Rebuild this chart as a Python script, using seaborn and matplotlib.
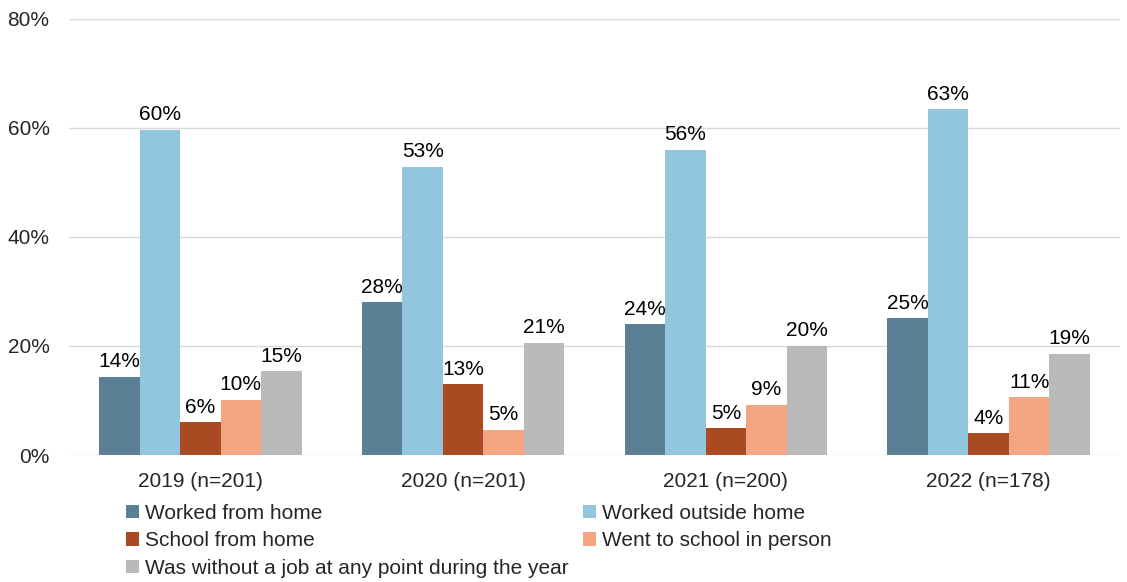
import matplotlib
matplotlib.use("Agg")
import matplotlib.pyplot as plt
import seaborn as sns
import pandas as pd
from matplotlib.patches import Patch

years = ["2019 (n=201)", "2020 (n=201)", "2021 (n=200)", "2022 (n=178)"]
series = ["Worked from home", "Worked outside home", "School from home",
          "Went to school in person", "Was without a job at any point during the year"]
worked_from_home = [14.4, 28.0, 24.0, 25.1]
worked_outside_home = [59.7, 52.9, 56.0, 63.4]
school_from_home = [6.0, 13.0, 4.9, 4.0]
school_in_person = [10.1, 4.6, 9.2, 10.6]
without_job = [15.4, 20.6, 20.0, 18.6]
colors = ["#5B7F95", "#92C5DE", "#AA4A23", "#F4A582", "#BABABA"]

values = [worked_from_home, worked_outside_home, school_from_home, school_in_person, without_job]
rows = []
for s, vals in zip(series, values):
    for y, v in zip(years, vals):
        rows.append({"year": y, "series": s, "value": v})
df = pd.DataFrame(rows)

sns.set_style("white")
plt.rcParams["font.family"] = ["Liberation Sans", "DejaVu Sans"]
FS = 15

fig = plt.figure(figsize=(11.27, 5.82), dpi=100)
ax = fig.add_axes([0.0612, 0.2182, 0.9326, 0.7492])

sns.barplot(data=df, x="year", y="value", hue="series", order=years, hue_order=series,
            palette=colors, saturation=1, width=0.77, gap=0, ax=ax, legend=False,
            edgecolor="none", linewidth=0, errorbar=None)

for c in ax.containers:
    ax.bar_label(c, fmt="{:.0f}%", padding=4, fontsize=FS, color="#000000")

ax.set_ylim(0, 80)
ax.set_yticks([0, 20, 40, 60, 80])
ax.set_yticklabels([f"{t}%" for t in [0, 20, 40, 60, 80]], fontsize=FS)
ax.tick_params(axis="x", labelsize=FS, length=0, pad=12)
ax.tick_params(axis="y", length=0, pad=14)
ax.set_xlabel("")
ax.set_ylabel("")
ax.set_xlim(-0.5, 3.5)
ax.yaxis.grid(True, color="#D9D9D9", linewidth=1)
ax.set_axisbelow(True)
for sp in ax.spines.values():
    sp.set_visible(False)

order = [0, 2, 4, 1, 3]
handles = [Patch(facecolor=colors[i], edgecolor="none") for i in order]
labels = [series[i] for i in order]
fig.legend(handles, labels, ncol=2, loc="upper left", bbox_to_anchor=(0.112, 0.134),
           frameon=False, fontsize=FS, handlelength=0.6, handleheight=0.6,
           handletextpad=0.3, labelspacing=0.4, columnspacing=0.7, borderpad=0,
           borderaxespad=0)

fig.savefig("out.png", dpi=100)
